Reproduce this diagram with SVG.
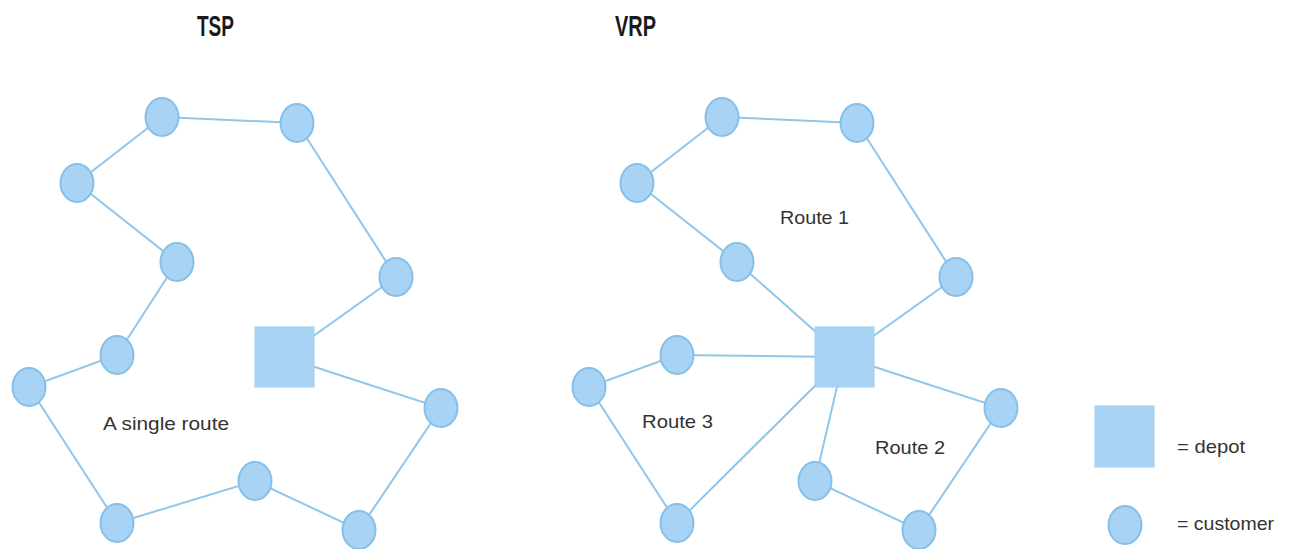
<svg xmlns="http://www.w3.org/2000/svg" width="1294" height="549" viewBox="0 0 1294 549">
  <style>
    .edge { stroke: #90c6ea; stroke-width: 2; fill: none; }
    .cust { fill: #a8d3f5; stroke: #86bfe8; stroke-width: 2; }
    .depot { fill: #a8d3f5; stroke: #9fcdf0; stroke-width: 1; }
    .title { font-family: "Liberation Sans", Arial, sans-serif; font-weight: bold; font-size: 29px; fill: #1a1a1a; }
    .lbl { font-family: "Liberation Sans", Arial, sans-serif; font-size: 19px; fill: #333; }
  </style>
  <rect width="1294" height="549" fill="#ffffff"/>

  <!-- titles -->
  <text class="title" x="197" y="36" textLength="37" lengthAdjust="spacingAndGlyphs">TSP</text>
  <text class="title" x="615" y="36" textLength="41" lengthAdjust="spacingAndGlyphs">VRP</text>

  <!-- connectors -->
  <g id="connectors">
    <!-- TSP: single tour -->
    <polyline class="edge" points="284,357 441,408 359,530 255,481 117,523 29,387 117,355 177,262 77,183 162,117 297,123 396,277 284,357"/>
    <!-- VRP route 1 -->
    <polyline class="edge" points="844,357 737,262 637,183 722,117 857,123 956,277 844,357"/>
    <!-- VRP route 2 -->
    <polyline class="edge" points="844,357 1001,408 919,530 815,481 844,357"/>
    <!-- VRP route 3 -->
    <polyline class="edge" points="844,357 677,355 589,387 677,523 844,357"/>
  </g>

  <!-- TSP nodes -->
  <g id="tsp-depot"><rect class="depot" x="255" y="327" width="59" height="60"/></g>
  <g id="tsp-c1"><ellipse class="cust" cx="162" cy="117" rx="16.5" ry="19"/></g>
  <g id="tsp-c2"><ellipse class="cust" cx="297" cy="123" rx="16.5" ry="19"/></g>
  <g id="tsp-c3"><ellipse class="cust" cx="77" cy="183" rx="16.5" ry="19"/></g>
  <g id="tsp-c4"><ellipse class="cust" cx="177" cy="262" rx="16.5" ry="19"/></g>
  <g id="tsp-c5"><ellipse class="cust" cx="396" cy="277" rx="16.5" ry="19"/></g>
  <g id="tsp-c6"><ellipse class="cust" cx="117" cy="355" rx="16.5" ry="19"/></g>
  <g id="tsp-c7"><ellipse class="cust" cx="29" cy="387" rx="16.5" ry="19"/></g>
  <g id="tsp-c8"><ellipse class="cust" cx="441" cy="408" rx="16.5" ry="19"/></g>
  <g id="tsp-c9"><ellipse class="cust" cx="255" cy="481" rx="16.5" ry="19"/></g>
  <g id="tsp-c10"><ellipse class="cust" cx="117" cy="523" rx="16.5" ry="19"/></g>
  <g id="tsp-c11"><ellipse class="cust" cx="359" cy="530" rx="16.5" ry="19"/></g>
  <text class="lbl" x="103" y="430" textLength="126" lengthAdjust="spacingAndGlyphs">A single route</text>

  <!-- VRP nodes -->
  <g id="vrp-depot"><rect class="depot" x="815" y="327" width="59" height="60"/></g>
  <g id="vrp-c1"><ellipse class="cust" cx="722" cy="117" rx="16.5" ry="19"/></g>
  <g id="vrp-c2"><ellipse class="cust" cx="857" cy="123" rx="16.5" ry="19"/></g>
  <g id="vrp-c3"><ellipse class="cust" cx="637" cy="183" rx="16.5" ry="19"/></g>
  <g id="vrp-c4"><ellipse class="cust" cx="737" cy="262" rx="16.5" ry="19"/></g>
  <g id="vrp-c5"><ellipse class="cust" cx="956" cy="277" rx="16.5" ry="19"/></g>
  <g id="vrp-c6"><ellipse class="cust" cx="677" cy="355" rx="16.5" ry="19"/></g>
  <g id="vrp-c7"><ellipse class="cust" cx="589" cy="387" rx="16.5" ry="19"/></g>
  <g id="vrp-c8"><ellipse class="cust" cx="1001" cy="408" rx="16.5" ry="19"/></g>
  <g id="vrp-c9"><ellipse class="cust" cx="815" cy="481" rx="16.5" ry="19"/></g>
  <g id="vrp-c10"><ellipse class="cust" cx="677" cy="523" rx="16.5" ry="19"/></g>
  <g id="vrp-c11"><ellipse class="cust" cx="919" cy="530" rx="16.5" ry="19"/></g>
  <text class="lbl" x="780" y="224" textLength="69" lengthAdjust="spacingAndGlyphs">Route 1</text>
  <text class="lbl" x="875" y="454" textLength="70" lengthAdjust="spacingAndGlyphs">Route 2</text>
  <text class="lbl" x="642" y="428" textLength="71" lengthAdjust="spacingAndGlyphs">Route 3</text>

  <!-- legend -->
  <g id="legend-depot">
    <rect class="depot" x="1095" y="406" width="59" height="61"/>
    <text class="lbl" x="1177" y="453" textLength="68" lengthAdjust="spacingAndGlyphs">= depot</text>
  </g>
  <g id="legend-customer">
    <ellipse class="cust" cx="1125" cy="525" rx="16.5" ry="19"/>
    <text class="lbl" x="1177" y="530" textLength="97" lengthAdjust="spacingAndGlyphs">= customer</text>
  </g>
</svg>
